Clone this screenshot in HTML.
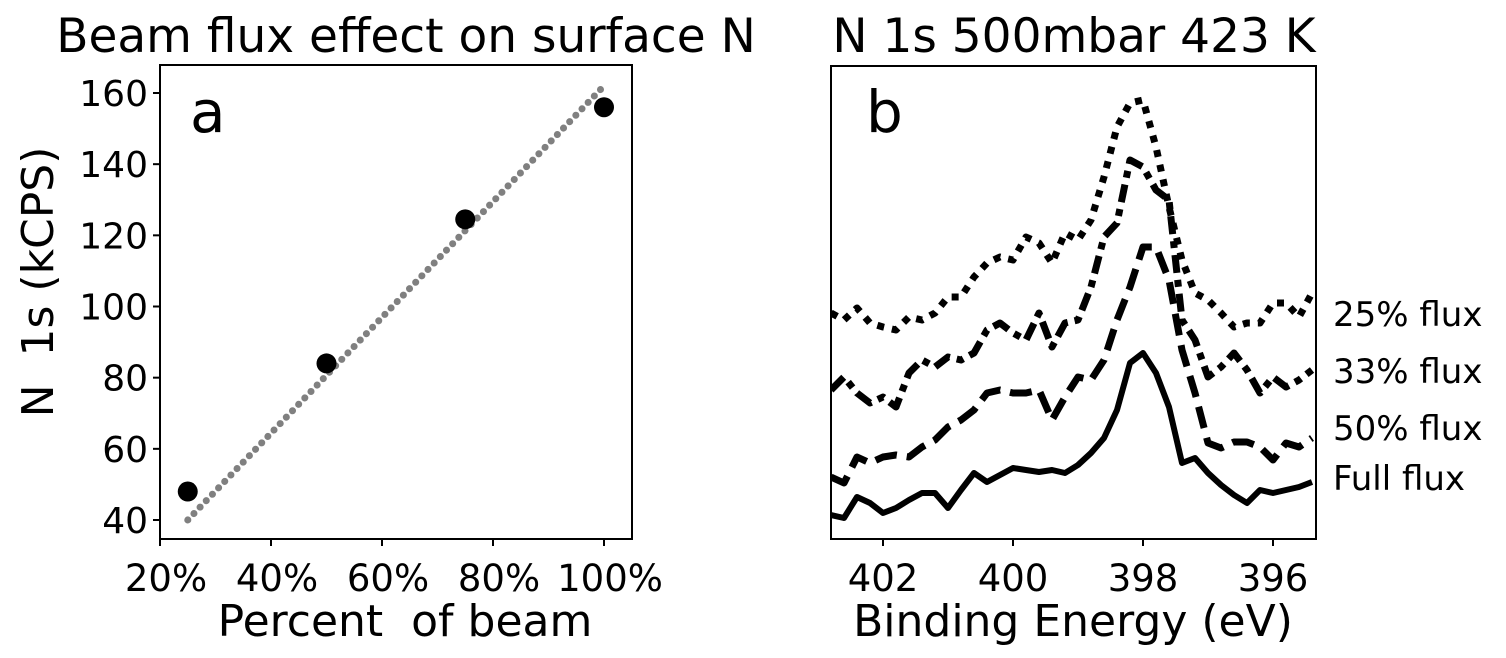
<!DOCTYPE html>
<html><head><meta charset="utf-8"><style>
html,body{margin:0;padding:0;background:#fff;}
svg text{font-family:"DejaVu Sans","Liberation Sans",sans-serif;fill:#000;white-space:pre;}
</style></head><body>
<svg id="c" width="1506" height="653" viewBox="0 0 1506 653" xmlns="http://www.w3.org/2000/svg">
<g id="pa"></g>
<g id="pb"></g>
</svg>
<script>
// Panel a data
const pctCategories = [25, 50, 75, 100];
const nSignal = [48, 84, 124.5, 156];
const fitX = [25, 100];
const fitY = [40, 162];
const aXTicks = [20, 40, 60, 80, 100];
const aYTicks = [40, 60, 80, 100, 120, 140, 160];
// Panel b data (binding energy grid, eV)
const energies = [];
for (let k = 0; k < 38; k++) energies.push(+(402.8 - 0.2 * k).toFixed(1));
const fullFlux = [24,21,42,36,26,31,39,46,46,31,49,66,57,64,71,69,67,69,66,74,86,101,129,176,186,166,132,76,81,66,54,44,36,49,46,49,52,57];
const flux50 = [62,56,82,76,82,84,82,92,99,112,119,129,146,149,146,146,149,119,142,162,159,179,219,252,292,292,259,189,146,96,91,97,97,92,79,96,92,101];
const flux33 = [149,162,146,136,142,132,166,179,172,182,179,186,209,216,206,199,226,192,216,219,252,302,316,379,372,349,339,219,199,162,172,186,169,146,162,152,159,169];
const flux25 = [226,219,231,216,212,209,222,219,226,242,242,262,276,282,279,302,296,276,306,299,319,362,412,436,439,392,332,279,246,239,226,212,216,216,236,236,222,246];
const bXTicks = [402, 400, 398, 396];
const seriesLabels = ["25% flux", "33% flux", "50% flux", "Full flux"];

const NS = "http://www.w3.org/2000/svg";
function mk(parent, tag, attrs, text) {
  const e = document.createElementNS(NS, tag);
  for (const k in attrs) e.setAttribute(k, attrs[k]);
  if (text !== undefined) e.textContent = text;
  parent.appendChild(e);
  return e;
}
// ---- Panel A ----
const pa = document.getElementById("pa");
const aL = 160, aR = 632, aT = 65, aB = 539;
const ax = v => 160 + (v - 20) * (604 - 160) / 80;
const ay = v => 520 - (v - 40) * (520 - 93) / 120;
let t = mk(pa, "text", {x: 406, y: 52, "font-size": 47, "text-anchor": "middle"}, "Beam flux effect on surface N");
 
let r = mk(pa, "rect", {x: aL, y: aT, width: aR - aL, height: aB - aT, fill: "none", stroke: "#000", "stroke-width": 2});
 
t = mk(pa, "text", {x: 190, y: 132, "font-size": 58}, "a");
 
aXTicks.forEach(v => {
  mk(pa, "line", {x1: ax(v), x2: ax(v), y1: aB, y2: aB + 7, stroke: "#000", "stroke-width": 2});
  const e = mk(pa, "text", {x: ax(v) + 6, y: 591, "font-size": 37, "text-anchor": "middle"}, v + "%");
   
});
aYTicks.forEach(v => {
  mk(pa, "line", {x1: aL - 7, x2: aL, y1: ay(v), y2: ay(v), stroke: "#000", "stroke-width": 2});
  const e = mk(pa, "text", {x: aL - 12, y: ay(v) + 13, "font-size": 36, "text-anchor": "end"}, v);
   
});
t = mk(pa, "text", {x: 405, y: 636, "font-size": 44, "text-anchor": "middle"}, "Percent  of beam");
 
t = mk(pa, "text", {x: 0, y: 0, "font-size": 44, "text-anchor": "middle", transform: "translate(53,282) rotate(-90)"}, "N  1s (kCPS)");
 
let fl = mk(pa, "line", {x1: ax(fitX[0]), y1: ay(fitY[0]), x2: ax(fitX[1]), y2: ay(fitY[1]), stroke: "#808080", "stroke-width": 7, "stroke-linecap": "round", "stroke-dasharray": "0.1 8.8"});
 
pctCategories.forEach((c, i) => {
  const p = mk(pa, "circle", {cx: ax(c), cy: ay(nSignal[i]), r: 10, fill: "#000"});
   
});
// ---- Panel B ----
const pb = document.getElementById("pb");
const bL = 831, bR = 1316, bT = 66, bB = 539;
const bx = e => 831 + (402.8 - e) * 65;
const by = v => 539 - v;
t = mk(pb, "text", {x: 1074, y: 52, "font-size": 47, "text-anchor": "middle"}, "N 1s 500mbar 423 K");
 
r = mk(pb, "rect", {x: bL, y: bT, width: bR - bL, height: bB - bT, fill: "none", stroke: "#000", "stroke-width": 2});
 
t = mk(pb, "text", {x: 866, y: 132, "font-size": 58}, "b");
 
bXTicks.forEach(v => {
  mk(pb, "line", {x1: bx(v), x2: bx(v), y1: bB, y2: bB + 7, stroke: "#000", "stroke-width": 2});
  const e = mk(pb, "text", {x: bx(v), y: 591, "font-size": 37, "text-anchor": "middle"}, v);
   
});
t = mk(pb, "text", {x: 1073, y: 636, "font-size": 44, "text-anchor": "middle"}, "Binding Energy (eV)");
 
const series = [
  {d: flux25, dash: "7 8", w: 7, name: "series-25-flux"},
  {d: flux33, dash: "18 7 7 7", w: 7, name: "series-33-flux"},
  {d: flux50, dash: "22 10", w: 7, name: "series-50-flux"},
  {d: fullFlux, dash: "none", w: 6, name: "series-full-flux"}
];
const clip = mk(pb, "clipPath", {id: "bclip"});
mk(clip, "rect", {x: bL, y: bT, width: bR - bL, height: bB - bT});
series.forEach(s => {
  const pts = s.d.map((v, i) => bx(energies[i]).toFixed(1) + "," + by(v).toFixed(1)).join(" ");
  const pl = mk(pb, "polyline", {points: pts, fill: "none", stroke: "#000", "stroke-width": s.w, "stroke-dasharray": s.dash, "stroke-linejoin": "round", "clip-path": "url(#bclip)"});
   
});
const labelY = [326, 383, 440, 490];
seriesLabels.forEach((s, i) => {
  const e = mk(pb, "text", {x: 1333, y: labelY[i], "font-size": 34}, s);
   
});
</script>
</body></html>
